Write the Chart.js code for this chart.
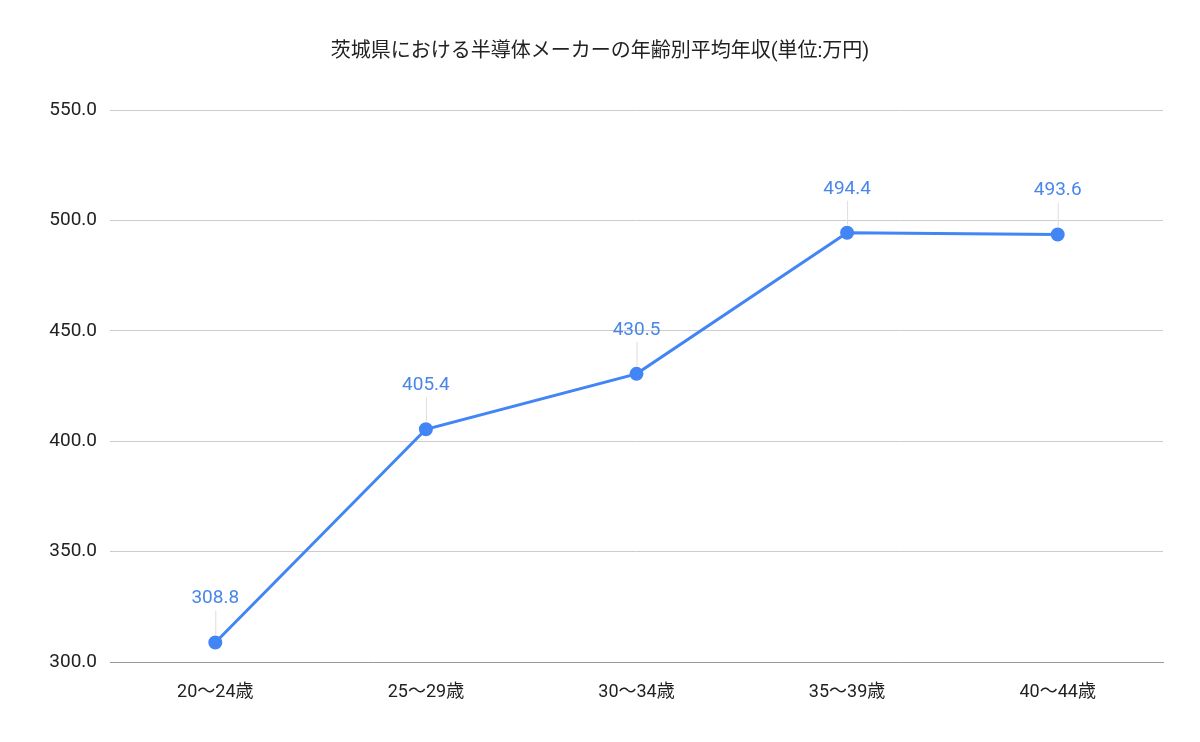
<!DOCTYPE html>
<html>
<head>
<meta charset="utf-8">
<script src="https://cdn.jsdelivr.net/npm/chart.js@4/dist/chart.umd.min.js"></script>
<style>
body { margin: 0; background: #fff; }
</style>
</head>
<body>
<canvas id="incomeChart" width="1200" height="742"></canvas>
<script>
const ageGroups = ['20〜24歳', '25〜29歳', '30〜34歳', '35〜39歳', '40〜44歳']
const avgIncome = [308.8, 405.4, 430.5, 494.4, 493.6]
const chartTitle = '茨城県における半導体メーカーの年齢別平均年収(単位:万円)'

const fontFamily = "Roboto, 'Noto Sans CJK JP', sans-serif"

// title + value labels with little leader lines
const drawExtras = {
    id: 'drawExtras',
    afterDatasetsDraw(chart) {
        const ctx = chart.ctx
        ctx.save()
        ctx.font = "20px " + fontFamily
        ctx.fillStyle = '#222'
        ctx.textAlign = 'center'
        ctx.textBaseline = 'middle'
        ctx.fillText(chartTitle, 600, 52)

        const meta = chart.getDatasetMeta(0)
        meta.data.forEach((pt, i) => {
            ctx.strokeStyle = '#dddddd'
            ctx.lineWidth = 1
            ctx.beginPath()
            ctx.moveTo(pt.x + 0.5, pt.y - 8)
            ctx.lineTo(pt.x + 0.5, pt.y - 32)
            ctx.stroke()
            ctx.fillStyle = '#4a86e8'
            ctx.font = "19px " + fontFamily
            ctx.fillText(avgIncome[i].toFixed(1), pt.x, pt.y - 44)
        })
        ctx.restore()
    }
}

const ctx = document.getElementById('incomeChart').getContext('2d')
const incomeChart = new Chart(ctx, {
    type: 'line',
    data: {
        labels: ageGroups,
        datasets: [{
            data: avgIncome,
            borderColor: '#4285f4',
            backgroundColor: '#4285f4',
            borderWidth: 3,
            pointRadius: 5.5,
            pointHoverRadius: 5.5,
            tension: 0
        }]
    },
    options: {
        responsive: false,
        animation: false,
        layout: {
            padding: { top: 110, right: 37, bottom: 0, left: 0 }
        },
        plugins: {
            legend: { display: false },
            tooltip: { enabled: false }
        },
        scales: {
            x: {
                offset: true,
                grid: { display: false },
                border: { color: '#999' },
                ticks: { color: '#222', font: { family: fontFamily, size: 18 }, padding: 12 },
                afterFit(axis) { axis.height = 80 }
            },
            y: {
                min: 300,
                max: 550,
                border: { display: false },
                grid: { color: '#cccccc', drawTicks: false },
                ticks: {
                    stepSize: 50,
                    color: '#222',
                    padding: 13,
                    font: { family: fontFamily, size: 19 },
                    callback: v => v.toFixed(1)
                },
                afterFit(axis) { axis.width = 110 }
            }
        }
    },
    plugins: [drawExtras]
})
</script>
</body>
</html>
